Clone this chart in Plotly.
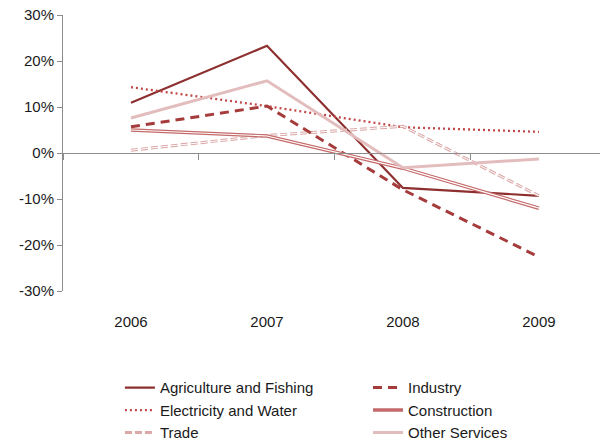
import plotly.graph_objects as go

years = ["2006", "2007", "2008", "2009"]

agriculture = [10.9, 23.3, -7.6, -9.3]
industry = [5.7, 10.2, -8.0, -22.6]
electricity = [14.3, 10.2, 5.6, 4.6]
trade = [0.6, 3.8, 5.8, -9.3]
construction = [5.0, 3.7, -3.3, -12.0]
other_services = [7.6, 15.7, -3.2, -1.3]

y_ticks = [30, 20, 10, 0, -10, -20, -30]
y_tick_labels = ["30%", "20%", "10%", "0%", "-10%", "-20%", "-30%"]

FONT = "Liberation Sans, Arial, sans-serif"
TEXT = "#1a1a1a"
AXIS_GREY = "#8c8c8c"

fig = go.Figure()

def add(name, values, color, width, dash="solid", legend="legend", show=True):
    fig.add_trace(go.Scatter(
        x=years, y=values, name=name, mode="lines",
        line=dict(color=color, width=width, dash=dash),
        legend=legend, showlegend=show, hoverinfo="skip",
    ))

# left legend column
add("Agriculture and Fishing", agriculture, "#8e2f2f", 2.2, legend="legend")
add("Electricity and Water", electricity, "#c24848", 2.3, dash="2px,3px", legend="legend")
add("Trade", trade, "#dba7a7", 3, dash="7px,3px", legend="legend")
add("Trade", trade, "white", 1, dash="7px,3px", legend="legend", show=False)
# right legend column
add("Industry", industry, "#a53b3b", 3, dash="9px,6px", legend="legend2")
add("Construction", construction, "#c56a6a", 3.5, legend="legend2")
add("Construction", construction, "white", 1.2, legend="legend2", show=False)
add("Other Services", other_services, "#e3bdbd", 3, legend="legend2")

legend_common = dict(
    orientation="v", xanchor="left", yanchor="top", y=-0.291,
    font=dict(family=FONT, size=15, color=TEXT),
    bgcolor="rgba(0,0,0,0)", itemclick=False, itemdoubleclick=False,
    traceorder="normal",
)

fig.update_layout(
    width=600, height=444,
    margin=dict(l=63, r=0, t=15, b=153, autoexpand=False),
    paper_bgcolor="white", plot_bgcolor="white",
    font=dict(family=FONT, size=15, color=TEXT),
    legend=dict(legend_common, x=0.106),
    legend2=dict(legend_common, x=0.568),
    xaxis=dict(
        type="category", categoryorder="array", categoryarray=years,
        range=[-0.5, 3.449], showline=False, showgrid=False, zeroline=False,
        ticks="", ticklabelstandoff=20, tickfont=dict(family=FONT, size=15),
    ),
    # horizontal axis line drawn through zero with ticks on category boundaries
    xaxis2=dict(
        type="category", categoryorder="array", categoryarray=years,
        overlaying="x", matches="x", anchor="free", position=0.5,
        range=[-0.5, 3.449], showline=True, linecolor=AXIS_GREY, linewidth=1,
        ticks="outside", ticklen=6, tickcolor=AXIS_GREY, tickson="boundaries",
        showticklabels=False, showgrid=False, zeroline=False,
    ),
    yaxis=dict(
        range=[-30, 30], tickvals=y_ticks, ticktext=y_tick_labels,
        showline=True, linecolor=AXIS_GREY, linewidth=1,
        ticks="outside", ticklen=5, tickcolor=AXIS_GREY,
        showgrid=False, zeroline=False, tickfont=dict(family=FONT, size=15),
    ),
)

# invisible trace so the zero-line axis is laid out
fig.add_trace(go.Scatter(x=years, y=[None] * len(years), xaxis="x2",
                         showlegend=False, hoverinfo="skip"))

fig.write_html("out.html")
